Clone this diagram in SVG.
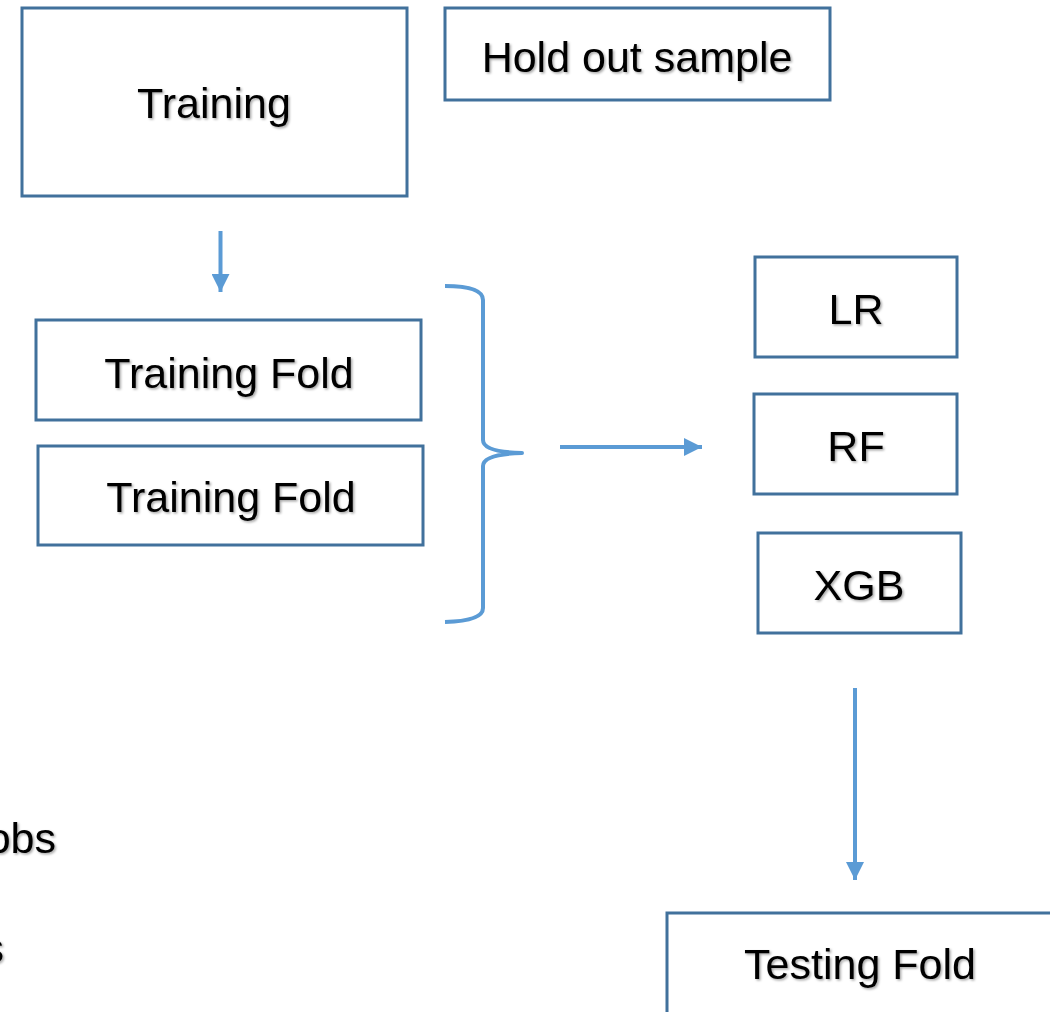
<svg xmlns="http://www.w3.org/2000/svg" width="1050" height="1012" viewBox="0 0 1050 1012">
<style>
.box{fill:#fff;stroke:#41719C;stroke-width:3}
.lbl{font-family:"Liberation Sans",Arial,sans-serif;font-size:43px;fill:#000;text-anchor:middle;filter:url(#sh)}
.conn{stroke:#5B9BD5;stroke-width:4;fill:none}
.brace{stroke:#5B9BD5;stroke-width:4;fill:none;stroke-linejoin:round}
</style>
<defs>
<filter id="sh" x="-10%" y="-30%" width="120%" height="160%">
<feDropShadow dx="1.5" dy="1.5" stdDeviation="1" flood-color="#000" flood-opacity="0.35"/>
</filter>
<marker id="ah" viewBox="0 0 10 10" refX="10" refY="5" markerWidth="4.5" markerHeight="4.5" markerUnits="strokeWidth" orient="auto">
<path d="M0,0 L10,5 L0,10 Z" fill="#5B9BD5"/>
</marker>
</defs>
<g id="training"><rect class="box" x="22" y="8" width="385" height="188"/><text class="lbl" x="214" y="118">Training</text></g>
<g id="holdout"><rect class="box" x="445" y="8" width="385" height="92"/><text class="lbl" x="637" y="72">Hold out sample</text></g>
<g id="fold1"><rect class="box" x="36" y="320" width="385" height="100"/><text class="lbl" x="229" y="388">Training Fold</text></g>
<g id="fold2"><rect class="box" x="38" y="446" width="385" height="99"/><text class="lbl" x="231" y="512">Training Fold</text></g>
<g id="lr"><rect class="box" x="755" y="257" width="202" height="100"/><text class="lbl" x="856" y="324">LR</text></g>
<g id="rf"><rect class="box" x="754" y="394" width="203" height="100"/><text class="lbl" x="856" y="461">RF</text></g>
<g id="xgb"><rect class="box" x="758" y="533" width="203" height="100"/><text class="lbl" x="859" y="600">XGB</text></g>
<g id="testing"><rect class="box" x="667" y="913" width="400" height="120"/><text class="lbl" x="860" y="979">Testing Fold</text></g>
<g id="fragments">
<text class="lbl" x="56" y="853" style="text-anchor:end">obs</text>
<text class="lbl" x="4" y="963" style="text-anchor:end">s</text>
</g>
<g id="connectors">
<line class="conn" x1="220.5" y1="231" x2="220.5" y2="292" marker-end="url(#ah)"/>
<path class="brace" d="M445,286 Q483,286 483,300 L483,440 Q483,452 522,453 Q483,454 483,466 L483,608 Q483,621 445,622"/>
<line class="conn" x1="560" y1="447" x2="702" y2="447" marker-end="url(#ah)"/>
<line class="conn" x1="855" y1="688" x2="855" y2="880" marker-end="url(#ah)"/>
</g>
</svg>
